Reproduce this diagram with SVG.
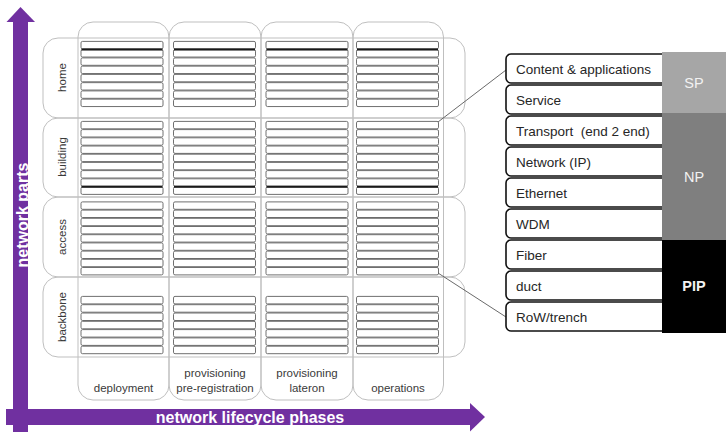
<svg xmlns="http://www.w3.org/2000/svg" xmlns:xlink="http://www.w3.org/1999/xlink" width="726" height="432" viewBox="0 0 726 432">
<style>
  .frame{fill:none;stroke:#BFBFBF;stroke-width:1}
  .bar{fill:#fff;stroke:#606060;stroke-width:0.9}
  .thick{stroke:#1a1a1a;stroke-width:2}
  .lbl{font-family:"Liberation Sans",Arial,sans-serif;font-size:11.5px;fill:#3a3a3a;text-anchor:middle}
  .axis{fill:#7030A0}
  .axtxt{font-family:"Liberation Sans",Arial,sans-serif;font-size:16px;font-weight:bold;fill:#fff;text-anchor:middle}
  .layer{fill:#fff;stroke:#111;stroke-width:1.6}
  .ltxt{font-family:"Liberation Sans",Arial,sans-serif;font-size:13.5px;fill:#262626;white-space:pre}
  .cat{font-family:"Liberation Sans",Arial,sans-serif;font-size:14.5px;fill:#F2F2F2;text-anchor:middle}
  .conn{stroke:#595959;stroke-width:0.9;fill:none}
</style>
<defs>
  <g id="home-bars">
    <rect class="bar" x="0" y="41.4" width="82" height="7.4" rx="1.5"/>
    <rect class="bar" x="0" y="49.65" width="82" height="7.4" rx="1.5"/>
    <rect class="bar" x="0" y="57.9" width="82" height="7.4" rx="1.5"/>
    <rect class="bar" x="0" y="66.15" width="82" height="7.4" rx="1.5"/>
    <rect class="bar" x="0" y="74.4" width="82" height="7.4" rx="1.5"/>
    <rect class="bar" x="0" y="82.65" width="82" height="7.4" rx="1.5"/>
    <rect class="bar" x="0" y="90.9" width="82" height="7.4" rx="1.5"/>
    <rect class="bar" x="0" y="99.15" width="82" height="7.4" rx="1.5"/>
    <line class="thick" x1="0.5" y1="49.4" x2="81.5" y2="49.4"/>
  </g>
  <g id="building-bars">
    <rect class="bar" x="0" y="121.4" width="82" height="7.4" rx="1.5"/>
    <rect class="bar" x="0" y="129.6" width="82" height="7.4" rx="1.5"/>
    <rect class="bar" x="0" y="137.8" width="82" height="7.4" rx="1.5"/>
    <rect class="bar" x="0" y="146" width="82" height="7.4" rx="1.5"/>
    <rect class="bar" x="0" y="154.2" width="82" height="7.4" rx="1.5"/>
    <rect class="bar" x="0" y="162.4" width="82" height="7.4" rx="1.5"/>
    <rect class="bar" x="0" y="170.6" width="82" height="7.4" rx="1.5"/>
    <rect class="bar" x="0" y="178.8" width="82" height="7.4" rx="1.5"/>
    <rect class="bar" x="0" y="187" width="82" height="7.4" rx="1.5"/>
    <line class="thick" x1="0.5" y1="186.7" x2="81.5" y2="186.7"/>
  </g>
  <g id="access-bars">
    <rect class="bar" x="0" y="201.9" width="82" height="7.4" rx="1.5"/>
    <rect class="bar" x="0" y="210.1" width="82" height="7.4" rx="1.5"/>
    <rect class="bar" x="0" y="218.3" width="82" height="7.4" rx="1.5"/>
    <rect class="bar" x="0" y="226.5" width="82" height="7.4" rx="1.5"/>
    <rect class="bar" x="0" y="234.7" width="82" height="7.4" rx="1.5"/>
    <rect class="bar" x="0" y="242.9" width="82" height="7.4" rx="1.5"/>
    <rect class="bar" x="0" y="251.1" width="82" height="7.4" rx="1.5"/>
    <rect class="bar" x="0" y="259.3" width="82" height="7.4" rx="1.5"/>
    <rect class="bar" x="0" y="267.5" width="82" height="7.4" rx="1.5"/>
  </g>
  <g id="backbone-bars">
    <rect class="bar" x="0" y="296.4" width="82" height="7.5" rx="1.5"/>
    <rect class="bar" x="0" y="304.7" width="82" height="7.5" rx="1.5"/>
    <rect class="bar" x="0" y="313" width="82" height="7.5" rx="1.5"/>
    <rect class="bar" x="0" y="321.3" width="82" height="7.5" rx="1.5"/>
    <rect class="bar" x="0" y="329.6" width="82" height="7.5" rx="1.5"/>
    <rect class="bar" x="0" y="337.9" width="82" height="7.5" rx="1.5"/>
    <rect class="bar" x="0" y="346.2" width="82" height="7.5" rx="1.5"/>
  </g>
</defs>
<rect width="726" height="432" fill="#fff"/>

<!-- axes -->
<g id="axis-network-parts">
  <rect class="axis" x="13" y="21" width="15" height="411"/>
  <polygon class="axis" points="6.5,22 20.5,7 35,22"/>
  <text class="axtxt" transform="translate(27.5,215) rotate(-90)">network parts</text>
</g>
<g id="axis-lifecycle">
  <rect class="axis" x="6" y="409" width="465" height="16"/>
  <polygon class="axis" points="470,403 485,417 470,431.5"/>
  <text class="axtxt" x="250" y="423">network lifecycle phases</text>
</g>

<!-- rows -->
<g id="row-home">
  <rect class="frame" x="43" y="38" width="422" height="80" rx="15"/>
  <text class="lbl" transform="translate(65.5,77.5) rotate(-90)">home</text>
</g>
<g id="row-building">
  <rect class="frame" x="43" y="118" width="422" height="79" rx="15"/>
  <text class="lbl" transform="translate(65.5,157) rotate(-90)">building</text>
</g>
<g id="row-access">
  <rect class="frame" x="43" y="197" width="422" height="80" rx="15"/>
  <text class="lbl" transform="translate(65.5,237) rotate(-90)">access</text>
</g>
<g id="row-backbone">
  <rect class="frame" x="43" y="277" width="422" height="80" rx="15"/>
  <text class="lbl" transform="translate(65.5,317) rotate(-90)">backbone</text>
</g>

<!-- columns -->
<g id="col-deployment">
  <rect class="frame" x="78" y="22" width="91" height="378" rx="15"/>
  <text class="lbl" x="123.5" y="392">deployment</text>
  <use xlink:href="#home-bars" x="81"/>
  <use xlink:href="#building-bars" x="81"/>
  <use xlink:href="#access-bars" x="81"/>
  <use xlink:href="#backbone-bars" x="81"/>
</g>
<g id="col-provisioning-pre">
  <rect class="frame" x="169" y="22" width="92" height="378" rx="15"/>
  <text class="lbl" x="215" y="377">provisioning</text>
  <text class="lbl" x="215" y="392">pre-registration</text>
  <use xlink:href="#home-bars" x="173.5"/>
  <use xlink:href="#building-bars" x="173.5"/>
  <use xlink:href="#access-bars" x="173.5"/>
  <use xlink:href="#backbone-bars" x="173.5"/>
</g>
<g id="col-provisioning-later">
  <rect class="frame" x="261" y="22" width="92" height="378" rx="15"/>
  <text class="lbl" x="307" y="377">provisioning</text>
  <text class="lbl" x="307" y="392">lateron</text>
  <use xlink:href="#home-bars" x="266"/>
  <use xlink:href="#building-bars" x="266"/>
  <use xlink:href="#access-bars" x="266"/>
  <use xlink:href="#backbone-bars" x="266"/>
</g>
<g id="col-operations">
  <rect class="frame" x="353" y="22" width="90.5" height="378" rx="15"/>
  <text class="lbl" x="398" y="392">operations</text>
  <use xlink:href="#home-bars" x="356.5"/>
  <use xlink:href="#building-bars" x="356.5"/>
  <use xlink:href="#access-bars" x="356.5"/>
  <use xlink:href="#backbone-bars" x="356.5"/>
</g>

<!-- connectors -->
<g id="connectors">
  <line class="conn" x1="438" y1="122" x2="506" y2="70"/>
  <line class="conn" x1="438" y1="273" x2="506" y2="317"/>
</g>

<!-- legend layers -->
<g id="layer-content"><rect class="layer" x="506" y="54" width="180" height="29" rx="5"/><text class="ltxt" x="516" y="74">Content &amp; applications</text></g>
<g id="layer-service"><rect class="layer" x="506" y="85" width="180" height="29" rx="5"/><text class="ltxt" x="516" y="105">Service</text></g>
<g id="layer-transport"><rect class="layer" x="506" y="116" width="180" height="29" rx="5"/><text class="ltxt" x="516" y="136">Transport  (end 2 end)</text></g>
<g id="layer-network"><rect class="layer" x="506" y="147" width="180" height="29" rx="5"/><text class="ltxt" x="516" y="167">Network (IP)</text></g>
<g id="layer-ethernet"><rect class="layer" x="506" y="178" width="180" height="29" rx="5"/><text class="ltxt" x="516" y="198">Ethernet</text></g>
<g id="layer-wdm"><rect class="layer" x="506" y="209" width="180" height="29" rx="5"/><text class="ltxt" x="516" y="229">WDM</text></g>
<g id="layer-fiber"><rect class="layer" x="506" y="240" width="180" height="29" rx="5"/><text class="ltxt" x="516" y="260">Fiber</text></g>
<g id="layer-duct"><rect class="layer" x="506" y="271" width="180" height="29" rx="5"/><text class="ltxt" x="516" y="291">duct</text></g>
<g id="layer-row"><rect class="layer" x="506" y="302" width="180" height="29" rx="5"/><text class="ltxt" x="516" y="322">RoW/trench</text></g>

<!-- categories -->
<g id="cat-sp"><rect x="662" y="52" width="64" height="61" fill="#A6A6A6"/><text class="cat" x="694" y="88">SP</text></g>
<g id="cat-np"><rect x="662" y="113" width="64" height="127" fill="#7F7F7F"/><text class="cat" x="694" y="182">NP</text></g>
<g id="cat-pip"><rect x="662" y="240" width="64" height="93" fill="#000"/><text class="cat" x="694" y="291" font-weight="bold">PIP</text></g>
</svg>
